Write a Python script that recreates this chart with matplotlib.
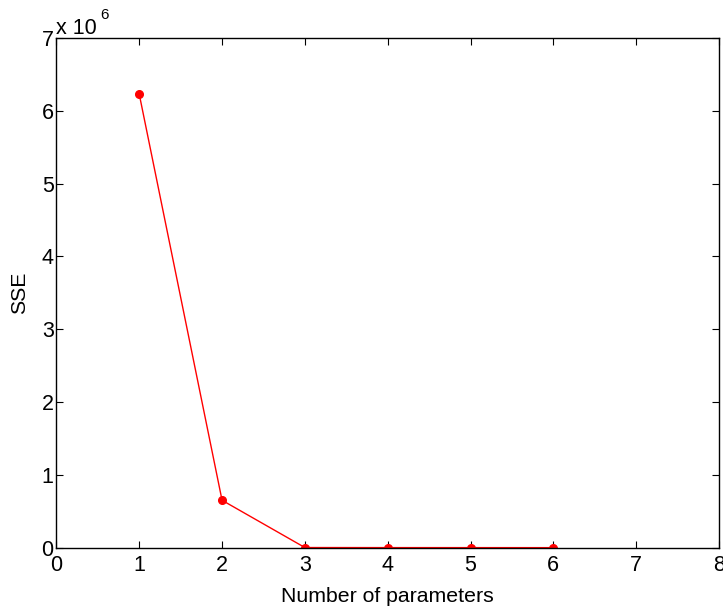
import numpy as np
import matplotlib.pyplot as plt

# SSE per number of parameters
n_params = [1, 2, 3, 4, 5, 6]
sse = [6.23e6, 0.651e6, 2.0e3, 1.0e3, 0.8e3, 0.5e3]

x_ticks = [0, 1, 2, 3, 4, 5, 6, 7, 8]
y_ticks = [0, 1e6, 2e6, 3e6, 4e6, 5e6, 6e6, 7e6]

plt.rcParams['font.family'] = ['Liberation Sans', 'DejaVu Sans']

fig = plt.figure(figsize=(7.23, 6.08), dpi=100)
ax = fig.add_axes([0.078, 0.0992, 0.9165, 0.8383])

ax.plot(n_params, sse, 'r-', linewidth=1.0, marker='o', markersize=5.5,
        markerfacecolor='red', markeredgecolor='red')

ax.set_xlim(0, 8)
ax.set_ylim(0, 7e6)
ax.set_xticks(x_ticks)
ax.set_yticks(y_ticks)
ax.set_xticklabels([str(v) for v in x_ticks])
ax.set_yticklabels([str(int(v / 1e6)) for v in y_ticks])

ax.tick_params(direction='in', length=5, width=0.8, labelsize=15.5,
               top=True, right=True, pad=2)
ax.tick_params(axis='x', pad=5)
for s in ax.spines.values():
    s.set_linewidth(1.0)

ax.set_xlabel('Number of parameters', fontsize=15.3, labelpad=8)
ax.set_ylabel('SSE', fontsize=15.3, labelpad=9)

# MATLAB-style exponent label above the y axis
ax.text(0.0, 0.999, 'x 10', transform=ax.transAxes, fontsize=15.5,
        ha='left', va='bottom')
ax.text(0.066, 1.032, '6', transform=ax.transAxes, fontsize=11,
        ha='left', va='bottom')

fig.savefig('out.png', dpi=100)
